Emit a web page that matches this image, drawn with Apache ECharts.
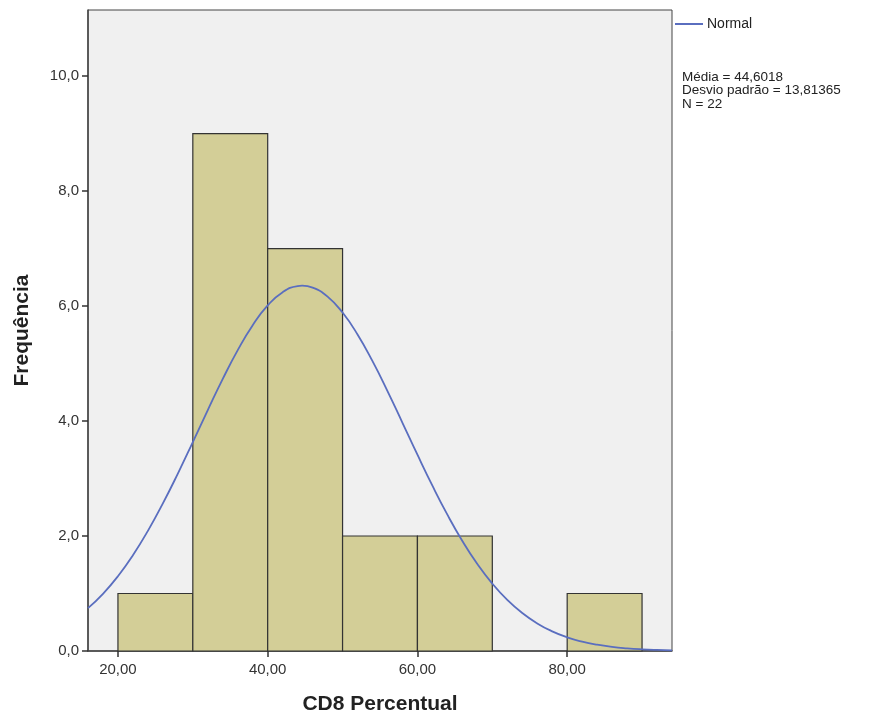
<!DOCTYPE html>
<html>
<head>
<meta charset="utf-8">
<script src="https://cdn.jsdelivr.net/npm/echarts@6/dist/echarts.min.js"></script>
<style>html,body{margin:0;padding:0;background:#fff;}#c{width:873px;height:717px;}</style>
</head>
<body>
<div id="c"></div>
<script>
// Histogram bins: [start, end]
const binStarts = [20, 30, 40, 50, 60, 70, 80];
const binEnds   = [30, 40, 50, 60, 70, 80, 90];
const counts    = [1, 9, 7, 2, 2, 0, 1];

// Normal curve values (x, frequency)
const curveX = [16,18,20,22,24,26,28,30,32,34,36,38,40,42,44,44.6,46,48,50,52,54,56,58,60,62,64,66,68,70,72,74,76,78,80,82,84,86,88,90,92,94];
const curveY = [0.745,0.995,1.301,1.666,2.090,2.567,3.086,3.634,4.191,4.733,5.234,5.668,6.011,6.242,6.348,6.354,6.321,6.165,5.887,5.505,5.041,4.521,3.970,3.414,2.875,2.371,1.914,1.513,1.172,0.889,0.660,0.480,0.342,0.238,0.163,0.109,0.071,0.046,0.029,0.018,0.011];

const xTicks = [20, 40, 60, 80];
const yTicks = [0, 2, 4, 6, 8, 10];
const statsLines = ['Média = 44,6018', 'Desvio padrão = 13,81365', 'N = 22'];

const FONT = '"Liberation Sans", Arial, sans-serif';
const chart = echarts.init(document.getElementById('c'));

const barData = binStarts.map((s, i) => [s, binEnds[i], counts[i]]).filter(d => d[2] > 0);
const lineData = curveX.map((x, i) => [x, curveY[i]]);

chart.setOption({
  animation: false,
  textStyle: { fontFamily: FONT },
  grid: {
    left: 88, right: 201, top: 10, bottom: 66,
    outerBoundsMode: 'none', containLabel: false,
    show: true, backgroundColor: '#f0f0f0', borderColor: '#444', borderWidth: 1
  },
  legend: {
    left: 675, top: 17, padding: 0,
    itemWidth: 28, itemHeight: 2, itemGap: 0,
    icon: 'rect',
    textStyle: { fontFamily: FONT, fontSize: 14, color: '#222', padding: [0, 0, 0, -1] },
    data: [{ name: 'Normal' }]
  },
  xAxis: {
    type: 'value', min: 16, max: 94,
    name: 'CD8 Percentual', nameLocation: 'middle', nameGap: 43,
    nameTextStyle: { fontFamily: FONT, fontSize: 21, fontWeight: 'bold', color: '#222' },
    axisLine: { show: true, lineStyle: { color: '#444', width: 1.5 } },
    axisTick: { show: true, length: 6, lineStyle: { color: '#333', width: 1.5 }, customValues: xTicks },
    axisLabel: { customValues: xTicks, fontSize: 15, color: '#333', margin: 11,
      formatter: v => v.toFixed(2).replace('.', ',') },
    splitLine: { show: false }
  },
  yAxis: {
    type: 'value', min: 0, max: 11.15,
    name: 'Frequência', nameLocation: 'middle', nameGap: 55,
    nameTextStyle: { fontFamily: FONT, fontSize: 21, fontWeight: 'bold', color: '#222' },
    axisLine: { show: true, lineStyle: { color: '#444', width: 1.5 } },
    axisTick: { show: true, length: 6, lineStyle: { color: '#333', width: 1.5 }, customValues: yTicks },
    axisLabel: { customValues: yTicks, fontSize: 15, color: '#333', margin: 9,
      formatter: v => v.toFixed(1).replace('.', ',') },
    splitLine: { show: false }
  },
  series: [
    {
      type: 'custom',
      name: 'Histograma',
      data: barData,
      encode: { x: [0, 1], y: 2 },
      renderItem: function (params, api) {
        const p0 = api.coord([api.value(0), 0]);
        const p1 = api.coord([api.value(1), api.value(2)]);
        return {
          type: 'rect',
          shape: { x: p0[0], y: p1[1], width: p1[0] - p0[0], height: p0[1] - p1[1] },
          style: { fill: '#d3ce97', stroke: '#333', lineWidth: 1.2 }
        };
      },
      z: 2
    },
    {
      type: 'line',
      name: 'Normal',
      data: lineData,
      smooth: true,
      showSymbol: false,
      symbol: 'none',
      lineStyle: { color: '#5a6ebf', width: 1.8 },
      itemStyle: { color: '#5a6ebf' },
      z: 3
    }
  ],
  graphic: [
    {
      type: 'text', left: 682, top: 70,
      style: { text: statsLines.join('\n'), fontFamily: FONT, fontSize: 13.5, lineHeight: 13.5, fill: '#222' }
    }
  ]
});
</script>
</body>
</html>
